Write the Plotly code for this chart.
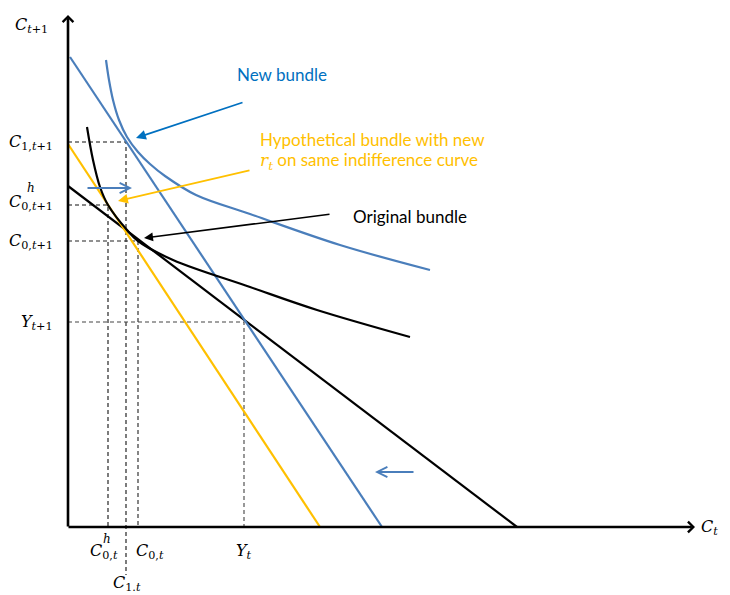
import plotly.graph_objects as go

# ---- Data (C_t on x, C_{t+1} on y) ----
# Budget lines: endpoints
orig_budget_x = [0.0, 44.9]
orig_budget_y = [34.1, 0.0]
new_budget_x = [0.2, 31.4]
new_budget_y = [47.0, 0.0]
hyp_budget_x = [0.0, 25.2]
hyp_budget_y = [38.3, 0.0]

# Indifference curves
orig_ic_x = [1.9, 2.5, 3.2, 4.0, 5.9, 7.0, 10.5, 18.2, 24.9, 34.2]
orig_ic_y = [40.0, 36.7, 34.0, 32.2, 29.7, 28.6, 26.7, 24.0, 21.7, 19.0]
new_ic_x = [3.8, 4.1, 4.5, 5.1, 5.9, 7.0, 8.2, 9.7, 12.8, 18.2, 27.2, 36.2]
new_ic_y = [46.7, 44.7, 42.7, 40.7, 39.0, 37.5, 36.3, 35.1, 33.2, 31.3, 28.2, 25.7]

# Bundles / endowment
c1_t, c1_t1 = 5.8, 38.5
c0h_t, c0h_t1 = 4.0, 32.2
c0_t, c0_t1 = 7.0, 28.6
y_t, y_t1 = 17.6, 20.5

# Tick labels
y_tick_vals = [c1_t1, c0_t1, y_t1]
y_tick_text = ["<i>C</i><sub>1,<i>t</i>+1</sub>", "<i>C</i><sub>0,<i>t</i>+1</sub>", "<i>Y</i><sub><i>t</i>+1</sub>"]

BLUE = "#4A7EBB"
TBLUE = "#0070C0"
YEL = "#FFC000"
MATH = "DejaVu Serif"
SANS = "Lato"

fig = go.Figure()

def line(x, y, color, width=2.2, dash=None, shape="linear"):
    fig.add_trace(go.Scatter(x=x, y=y, mode="lines",
                             line=dict(color=color, width=width, dash=dash, shape=shape, smoothing=1.0),
                             hoverinfo="skip", showlegend=False))

# dashed guide lines
line([0, c1_t, c1_t], [c1_t1, c1_t1, -4.8], "#111111", 1.1, "4px,3px")
line([0, c0h_t, c0h_t], [c0h_t1, c0h_t1, 0], "#111111", 1.1, "4px,3px")
line([0, c0_t, c0_t], [c0_t1, c0_t1, 0], "#222222", 1.1, "4px,3px")
line([0, y_t, y_t], [y_t1, y_t1, 0], "#444444", 1.1, "4px,3px")

# budget lines
line(orig_budget_x, orig_budget_y, "black", 2.2)
line(new_budget_x, new_budget_y, BLUE, 2.2)
line(hyp_budget_x, hyp_budget_y, YEL, 2.2)
# indifference curves
line(orig_ic_x, orig_ic_y, "black", 2.2, shape="spline")
line(new_ic_x, new_ic_y, BLUE, 2.2, shape="spline")

ann = []
def arrow(tx, ty, hx, hy, color, head, width=2.0, size=1.0):
    ann.append(dict(x=hx, y=hy, ax=tx, ay=ty, xref="x", yref="y", axref="x", ayref="y",
                    text="", showarrow=True, arrowhead=head, arrowsize=size,
                    arrowwidth=width, arrowcolor=color, standoff=0))

def text(x, y, s, color="black", size=16, family=MATH, xanchor="center"):
    ann.append(dict(x=x, y=y, xref="x", yref="y", text=s, showarrow=False,
                    font=dict(family=family, size=size, color=color),
                    xanchor=xanchor, yanchor="middle"))

# axes
arrow(0, -0.1, 0, 51.2, "black", 4, 2.6, 0.8)
arrow(-0.1, 0, 62.7, 0, "black", 4, 2.6, 0.8)

# pointers
arrow(17.6, 42.5, 6.8, 38.9, TBLUE, 2, 1.8, 1.1)
arrow(18.3, 35.7, 5.0, 32.6, YEL, 2, 1.8, 1.1)
arrow(26.3, 31.3, 7.6, 28.9, "black", 2, 1.5, 1.2)
arrow(1.8, 33.9, 6.4, 33.9, BLUE, 5, 2.0, 1.0)
arrow(34.7, 5.5, 30.7, 5.5, BLUE, 5, 2.0, 1.0)

# texts
text(21.4, 45.3, "New bundle", TBLUE, 17, SANS)
text(19.0, 38.8, "Hypothetical bundle with new", YEL, 17, SANS, "left")
text(19.0, 36.6, "<span style='font-family:DejaVu Serif;font-size:17px'><i>r</i><sub><i>t</i></sub></span> on same indifference curve",
     YEL, 17, SANS, "left")
text(28.3, 31.1, "Original bundle", "black", 17, SANS, "left")

# axis labels
text(-3.7, 50.2, "<i>C</i><sub><i>t</i>+1</sub>")
text(65.2, 0.0, "<i>C</i><sub><i>t</i></sub>", xanchor="right")

# y tick labels
for v, s in zip(y_tick_vals, y_tick_text):
    text(-1.3, v, s, xanchor="right")
# C^h_{0,t+1}
text(-1.3, 32.5, "<i>C</i><sub>0,<i>t</i>+1</sub>", xanchor="right")
text(-4.3, 33.9, "<i>h</i>", size=12, xanchor="left")

# x tick labels
text(8.2, -2.4, "<i>C</i><sub>0,<i>t</i></sub>")
text(17.6, -2.4, "<i>Y</i><sub><i>t</i></sub>")
text(3.6, -2.4, "<i>C</i><sub>0,<i>t</i></sub>")
text(3.3, -1.2, "<i>h</i>", size=12, xanchor="left")
text(5.9, -5.6, "<i>C</i><sub>1.<i>t</i></sub>")

fig.update_layout(
    width=722, height=587,
    margin=dict(l=0, r=0, t=0, b=0),
    paper_bgcolor="white", plot_bgcolor="white",
    xaxis=dict(range=[-6.0, 66.2], visible=False, fixedrange=True),
    yaxis=dict(range=[-6.8, 51.9], visible=False, fixedrange=True),
    annotations=ann,
    showlegend=False,
)

fig.write_html("out.html")
